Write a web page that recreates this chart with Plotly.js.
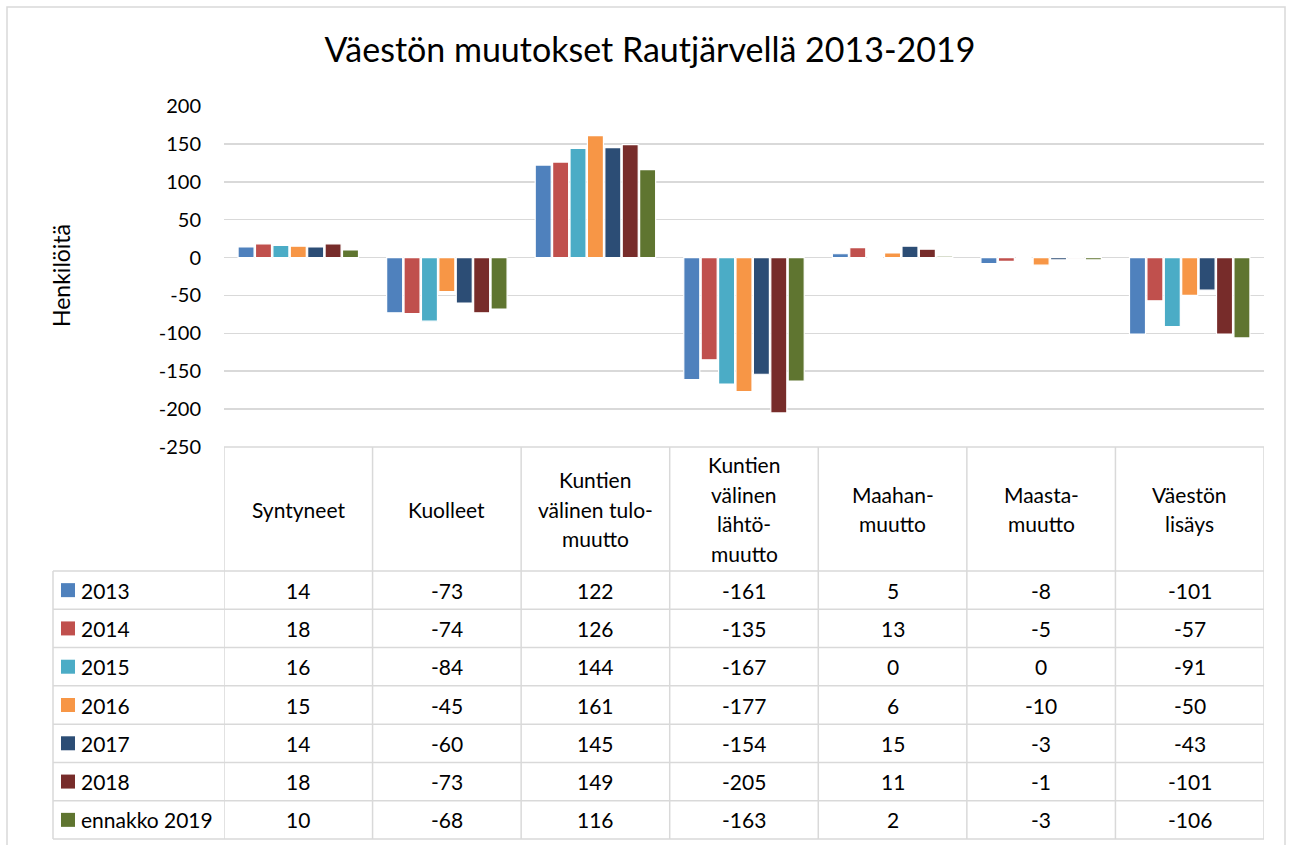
<!DOCTYPE html>
<html><head><meta charset="utf-8">
<script src="https://cdn.plot.ly/plotly-3.0.1.min.js"></script>
<style>html,body{margin:0;padding:0;background:#fff}#chart{width:1292px;height:845px}</style>
</head><body><div id="chart"></div>
<script>
const categories = ["Syntyneet","Kuolleet","Kuntien<br>välinen tulo-<br>muutto","Kuntien<br>välinen<br>lähtö-<br>muutto","Maahan-<br>muutto","Maasta-<br>muutto","Väestön<br>lisäys"];
const seriesNames = ["2013","2014","2015","2016","2017","2018","ennakko 2019"];
const v2013 = [14,-73,122,-161,5,-8,-101];
const v2014 = [18,-74,126,-135,13,-5,-57];
const v2015 = [16,-84,144,-167,0,0,-91];
const v2016 = [15,-45,161,-177,6,-10,-50];
const v2017 = [14,-60,145,-154,15,-3,-43];
const v2018 = [18,-73,149,-205,11,-1,-101];
const v2019 = [10,-68,116,-163,2,-3,-106];
const colors = ["#4F81BD","#C0504D","#4BACC6","#F79646","#2C4D75","#772C2A","#5F7530"];
const yTicks = [-250,-200,-150,-100,-50,0,50,100,150,200];

const series = [v2013,v2014,v2015,v2016,v2017,v2018,v2019];
const W = 1292, H = 845;
const L = 224, R = 1264, T = 106, B = 839;
const px = x => (x - L) / (R - L);
const py = y => (B - y) / (B - T);
const FONT = "Lato, 'Open Sans', sans-serif";
const FS = 21;
const idx = categories.map((c,i)=>i);

const traces = series.map((vals,s)=>({
  type:'bar', x: idx, y: vals, name: seriesNames[s],
  marker:{color:colors[s], line:{color:'#ffffff', width:1.2}},
  hoverinfo:'y+name'
}));

const grid = '#d9d9d9';
const shapes = [];
const annotations = [];
// outer chart border
shapes.push({type:'rect', xref:'paper', yref:'paper', x0:px(7), x1:px(1285), y0:py(1000), y1:py(7), line:{color:grid, width:1.5}});
// header top line and row lines
const headTop = 447, rowTop = 571, rowH = (839-571)/7;
shapes.push({type:'line', xref:'paper', yref:'paper', x0:0, x1:1, y0:py(headTop), y1:py(headTop), line:{color:grid,width:1.5}});
for (let r=0;r<=seriesNames.length;r++){
  const y = rowTop + r*rowH;
  shapes.push({type:'line', xref:'paper', yref:'paper', x0:px(53), x1:1, y0:py(y), y1:py(y), line:{color:grid,width:1.5}});
}
for (let k=0;k<=categories.length;k++){
  shapes.push({type:'line', xref:'x', yref:'paper', x0:k-0.5, x1:k-0.5, y0:py(839), y1:py(headTop), line:{color:grid,width:1.5}});
}
shapes.push({type:'line', xref:'paper', yref:'paper', x0:px(53), x1:px(53), y0:py(839), y1:py(rowTop), line:{color:grid,width:1.5}});

// header labels
const lineSp = 29.5, headMid = 509;
categories.forEach((c,i)=>{
  const lines = c.split('<br>');
  lines.forEach((ln,j)=>{
    const y = headMid + (j - (lines.length-1)/2)*lineSp;
    annotations.push({xref:'x', yref:'paper', x:i, y:py(y), text:ln, showarrow:false, xanchor:'center', yanchor:'middle', font:{family:FONT,size:FS,color:'#000'}});
  });
});
// rows
seriesNames.forEach((nm,s)=>{
  const yc = rowTop + (s+0.5)*rowH;
  shapes.push({type:'rect', xref:'paper', yref:'paper', x0:px(61), x1:px(75), y0:py(yc+7), y1:py(yc-7), fillcolor:colors[s], line:{width:0}});
  annotations.push({xref:'paper', yref:'paper', x:px(79), y:py(yc), text:nm, showarrow:false, xanchor:'left', yanchor:'middle', font:{family:FONT,size:FS,color:'#000'}});
  series[s].forEach((v,i)=>{
    annotations.push({xref:'x', yref:'paper', x:i, y:py(yc), text:String(v), showarrow:false, xanchor:'center', yanchor:'middle', font:{family:FONT,size:FS,color:'#000'}});
  });
});
// y axis title
annotations.push({xref:'paper', yref:'paper', x:px(61), y:py(276), text:'Henkilöitä', textangle:-90, showarrow:false, xanchor:'center', yanchor:'middle', font:{family:FONT,size:23,color:'#000'}});

const layout = {
  width:W, height:H,
  margin:{l:L, r:W-R, t:T, b:H-B, pad:0},
  paper_bgcolor:'#fff', plot_bgcolor:'rgba(0,0,0,0)',
  title:{text:'Väestön muutokset Rautjärvellä 2013-2019', xref:'container', yref:'container', x:650/W, y:1-50/H, xanchor:'center', yanchor:'middle', font:{family:FONT,size:34,color:'#000'}},
  showlegend:false,
  barmode:'group', bargap:0.18, bargroupgap:0.08,
  xaxis:{type:'linear', range:[-0.5,6.5], showgrid:false, zeroline:false, showticklabels:false, showline:false, fixedrange:true},
  yaxis:{domain:[py(447),1], range:[-250,200], tickvals:yTicks, ticktext:yTicks.map(String), showgrid:true, gridcolor:grid, gridwidth:1.5, zeroline:true, zerolinecolor:grid, zerolinewidth:1.5, showline:false, ticks:'', ticklabelstandoff:22, tickfont:{family:FONT,size:20,color:'#000'}},
  shapes, annotations
};
Plotly.newPlot('chart', traces, layout, {displayModeBar:false, staticPlot:true});
</script></body></html>
